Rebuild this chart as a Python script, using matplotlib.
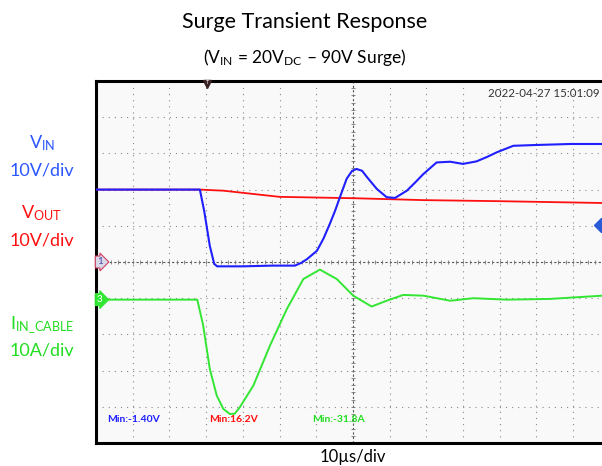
import numpy as np
import matplotlib
matplotlib.use('Agg')
import matplotlib.pyplot as plt

plt.rcParams['font.family'] = ['Lato', 'DejaVu Sans']
plt.rcParams['mathtext.fontset'] = 'custom'
plt.rcParams['mathtext.rm'] = 'Lato'
plt.rcParams['mathtext.it'] = 'Lato:italic'
plt.rcParams['mathtext.bf'] = 'Lato:bold'

# scope settings
US_PER_DIV = 10.0
V_PER_DIV = 10.0
A_PER_DIV = 10.0
CH3_OFFSET_DIV = -1.04   # ground level of current channel (divisions)

# VIN (blue), time in us from left edge, volts
vin_t = [0, 28.3, 29.5, 31.0, 32.2, 33.0, 40, 48, 54.2, 56.0, 57.5, 60.2, 62.0,
         63.7, 65.2, 66.5, 68.3, 69.8, 71.0, 72.5, 73.8, 76.5, 79.2, 81.5, 84.7,
         87.0, 89.2, 92.8, 96.5, 100.0, 103.7, 106.5, 109.2, 113.7, 119.2, 129.2, 138]
vin_v = [20, 20, 14.0, 4.5, -0.5, -1.2, -1.2, -1.0, -1.0, -0.2, 0.8, 3.1, 6.5,
         10.5, 14.3, 18.0, 23.0, 25.2, 25.7, 25.2, 23.5, 20.2, 17.9, 17.7, 19.7,
         22.0, 24.3, 27.5, 27.7, 27.1, 27.8, 29.0, 30.3, 32.1, 32.3, 32.6, 32.6]

# VOUT (red)
vout_t = [0, 28.3, 34.7, 41.0, 50.0, 71.0, 89.0, 110.0, 138]
vout_v = [20, 20, 19.7, 19.0, 18.0, 17.6, 17.1, 16.8, 16.3]

# IIN_CABLE (green), amps
iin_t = [0, 27.6, 29.2, 31.0, 32.9, 34.7, 36.5, 37.8, 39.2, 42.9, 47.4, 52.0,
         56.5, 61.0, 65.6, 70.1, 75.1, 79.2, 83.7, 89.2, 96.5, 102.8, 112.0, 123.7, 138]
iin_a = [0, 0, -7.1, -19.1, -26.5, -30.2, -31.6, -31.5, -29.7, -23.7, -12.7, -2.6,
         5.7, 8.3, 5.7, 1.1, -1.9, -0.3, 1.3, 1.1, -0.3, 0.4, 0.0, 0.2, 1.1]

min_labels = ['Min:-1.40V', 'Min:16.2V', 'Min:-31.8A']
timestamp = '2022-04-27 15:01:09'

BLUE = '#1f1fff'
RED = '#ff1010'
GREEN = '#33e633'
BLUE_TXT = '#2b57ff'
GREEN_TXT = '#22dd22'

fig = plt.figure(figsize=(6.02, 4.66), dpi=100)
# plot area: left edge at 96px, top at 81px, 36.7px/div horizontally, 36.2px/div vertically
W, H = 602, 466
ax = fig.add_axes([96 / W, (H - 443) / H, 14 * 36.7 / W, 362 / H])
ax.set_facecolor('#f9f9f9')
ax.set_xlim(0, 14)
ax.set_ylim(-5, 5)
ax.set_xticks([])
ax.set_yticks([])
for s in ax.spines.values():
    s.set_linewidth(2.2)
    s.set_color('black')

# graticule
for gx in range(1, 14):
    if gx == 7:
        continue
    ax.axvline(gx, color='#8a8a8a', lw=0.8, ls=(0, (1, 4.5)), zorder=1)
for gy in range(-4, 5):
    if gy == 0:
        continue
    ax.axhline(gy, color='#8a8a8a', lw=0.8, ls=(0, (1, 4.5)), zorder=1)
ax.axvline(7, color='#555555', lw=0.8, ls=(0, (2, 2)), zorder=1)
ax.axhline(0, color='#555555', lw=0.8, ls=(0, (2, 2)), zorder=1)
sub = np.arange(0, 14.01, 0.2)
ax.plot(sub, np.zeros_like(sub), ls='none', marker='|', ms=3, color='#777777', mew=0.6, zorder=1)
subv = np.arange(-5, 5.01, 0.2)
ax.plot(np.full_like(subv, 7), subv, ls='none', marker='_', ms=3, color='#777777', mew=0.6, zorder=1)

# traces
ax.plot(np.array(vout_t) / US_PER_DIV, np.array(vout_v) / V_PER_DIV, color=RED, lw=1.3, zorder=3)
ax.plot(np.array(vin_t) / US_PER_DIV, np.array(vin_v) / V_PER_DIV, color=BLUE, lw=1.5, zorder=4)
ax.plot(np.array(iin_t) / US_PER_DIV, np.array(iin_a) / A_PER_DIV + CH3_OFFSET_DIV,
        color=GREEN, lw=1.4, zorder=3)

# channel markers
ax.text(0.02, 0, '1', ha='left', va='center', fontsize=7, color='#4444aa', zorder=6,
        bbox=dict(boxstyle='rarrow,pad=0.15', fc='#d8d8e8', ec='#d04060', lw=0.8))
ax.text(0.02, CH3_OFFSET_DIV, '3', ha='left', va='center', fontsize=7, color='white', zorder=6,
        bbox=dict(boxstyle='rarrow,pad=0.15', fc=GREEN, ec=GREEN, lw=0.8))
ax.plot([13.75], [1.03], marker='D', ms=7, color='#2a5cd8', clip_on=False, zorder=6)
ax.plot([3.03], [4.93], marker='v', ms=6, color='#3a2020', clip_on=False, zorder=6)
ax.text(3.03, 4.97, 'T', ha='center', va='center', fontsize=4, color='white', zorder=7)

# labels inside scope
ax.text(13.72, 4.65, timestamp, ha='right', va='center', fontsize=8.3, color='#333333')
ax.text(0.3, -4.35, min_labels[0], ha='left', va='center', fontsize=7.5, color=BLUE, fontweight='bold')
ax.text(3.08, -4.35, min_labels[1], ha='left', va='center', fontsize=7.5, color=RED, fontweight='bold')
ax.text(5.88, -4.35, min_labels[2], ha='left', va='center', fontsize=7.5, color=GREEN_TXT, fontweight='bold')

# figure text
fig.text(305 / W, 1 - 22 / H, 'Surge Transient Response', ha='center', va='center', fontsize=15.5)
fig.text(305 / W, 1 - 58 / H, r'(V$_{\mathrm{IN}}$ = 20V$_{\mathrm{DC}}$ – 90V Surge)',
         ha='center', va='center', fontsize=12.5)
fig.text(353 / W, 1 - 457 / H, '10µs/div', ha='center', va='center', fontsize=12)

fig.text(42 / W, 1 - 143 / H, r'V$_{\mathrm{IN}}$', ha='center', va='center', fontsize=13, color=BLUE_TXT)
fig.text(42 / W, 1 - 170 / H, '10V/div', ha='center', va='center', fontsize=13, color=BLUE_TXT)
fig.text(42 / W, 1 - 213 / H, r'V$_{\mathrm{OUT}}$', ha='center', va='center', fontsize=13, color=RED)
fig.text(42 / W, 1 - 241 / H, '10V/div', ha='center', va='center', fontsize=13, color=RED)
fig.text(42 / W, 1 - 325 / H, r'I$_{\mathrm{IN\_CABLE}}$', ha='center', va='center', fontsize=13, color=GREEN_TXT)
fig.text(42 / W, 1 - 350 / H, '10A/div', ha='center', va='center', fontsize=13, color=GREEN_TXT)

fig.savefig('out.png', dpi=100)
